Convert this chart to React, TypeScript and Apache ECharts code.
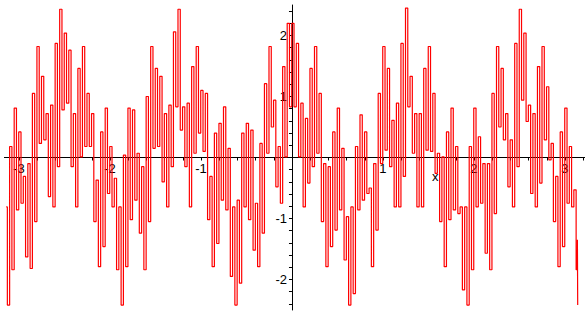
import React, { useEffect, useRef } from "react";
import * as echarts from "echarts";

// Sampling grid of the curve (x in radians), one high/low pair per step
const sampleStart = -3.14;
const sampleStep = 0.05;

// Local upper values of the zig-zag
const bandHigh = [
  -0.81, 0.18, 0.81, 0.42, -0.31, -0.1, 1.05, 1.82, 1.33, 0.72,
  0.86, 1.87, 2.43, 2.04, 1.76, 0.72, 1.46, 1.82, 1.05, 0.72,
  -0.37, 0.42, 0.81, 0.18, -0.34, -0.81, 0.04, 0.81, 0.78, 0.07,
  -0.15, 1.0, 1.82, 1.46, 1.33, 0.72, 0.86, 2.06, 2.43, 0.83,
  0.89, 1.49, 1.82, 1.1, 1.05, -0.31, 0.4, 0.56, 0.83, 0.15,
  -0.81, -0.7, 0.4, 0.56, 0.45, -0.75, 0.23, 1.21, 1.82, 0.94,
  0.18, 1.49, 2.2, 2.2, 1.87, 0.89, 0.64, 1.46, 1.82, 1.05,
  -0.1, -0.15, 0.42, 0.81, 0.15, -0.97, -0.81, 0.18, 0.7, 0.42,
  -0.5, -0.1, 1.05, 1.82, 1.46, 0.61, 0.89, 1.87, 2.45, 1.33,
  0.72, 0.72, 1.46, 1.82, 1.05, 0.07, 0.01, 0.42, 0.81, 0.18,
  -0.81, -0.81, 0.18, 0.81, 0.34, -0.1, -0.1, 1.05, 1.82, 1.46,
  0.72, 0.29, 1.87, 2.43, 2.04, 0.86, 0.72, 1.49, 1.82, 1.16,
  0.23, -0.31, 0.42, 0.81, 0.18, -0.53,
];

// Local lower values of the zig-zag
const bandLow = [
  -2.42, -1.84, -0.86, -0.75, -1.63, -1.82, -1.05, 0.23, 0.29, -0.64,
  -0.81, -0.15, 0.78, 0.89, -0.15, -0.81, 0.01, 0.18, 0.18, -1.05,
  -1.79, -1.46, -0.59, -0.81, -1.84, -2.42, -1.79, -1.02, -0.7, -1.24,
  -1.84, -1.05, 0.15, 0.18, -0.4, -0.81, -0.15, 0.83, 0.45, -0.15,
  -0.81, 0.07, 0.4, 0.1, -1.02, -1.79, -1.41, -0.7, -0.86, -1.95,
  -2.42, -2.06, -0.81, -1.02, -1.52, -1.79, -1.24, 0.07, 0.5, -0.48,
  -0.75, 0.01, 0.83, 0.83, 0.01, -0.81, -0.42, -0.15, 0.07, -1.05,
  -1.79, -1.46, -1.19, -0.86, -1.68, -2.42, -2.23, -0.86, -0.7, -0.59,
  -1.79, -1.19, -0.1, 0.12, -0.15, -0.81, -0.81, -0.31, 0.83, 0.07,
  -0.81, -0.81, 0.12, 0.1, -0.26, -1.05, -1.79, -1.02, -0.86, -0.92,
  -2.17, -2.42, -1.84, -0.81, -0.75, -1.57, -1.84, -0.92, 0.5, 0.29,
  -0.48, -0.81, -0.15, 0.94, 0.59, -0.59, -0.81, -0.42, 0.29, -0.04,
  -1.05, -1.79, -1.46, -0.75, -0.81, -1.84,
];

// Final points at the right end (x = pi)
const endX = [3.138, Math.PI];
const endY = [-1.35, -2.42];

const xTickLabels = [-3, -2, -1, 1, 2, 3];
const yTickLabels = [-2, -1, 1, 2];

// Layout (pixels)
const W = 585;
const H = 315;
const gridLeft = 4.4;
const gridTop = 5;
const gridHeight = 305;
const xMin = -3.16;
const xMax = 3.22;
const yMin = -2.5;
const yMax = 2.5;

export default function App() {
  const ref = useRef<HTMLDivElement>(null);

  useEffect(() => {
    if (!ref.current) return;
    const chart = echarts.init(ref.current, undefined, { renderer: "svg" });

    const pts: number[][] = [];
    for (let k = 0; k < bandHigh.length; k++) {
      const x = sampleStart + sampleStep * k;
      pts.push([x, bandHigh[k]]);
      pts.push([x + sampleStep / 2, bandLow[k]]);
    }
    for (let i = 0; i < endX.length; i++) pts.push([endX[i], endY[i]]);

    const xTicks: number[] = [];
    for (let i = -15; i <= 16; i++) xTicks.push(Math.round(i * 20) / 100);
    const yTicks: number[] = [];
    for (let i = -12; i <= 12; i++) yTicks.push(Math.round(i * 20) / 100);

    const gridWidth = W - gridLeft;
    const zeroYFromBottom = (gridHeight * (0 - yMin)) / (yMax - yMin);
    const zeroXFromLeft = (gridWidth * (0 - xMin)) / (xMax - xMin);

    const font = "'Liberation Sans', Arial, sans-serif";

    chart.setOption({
      animation: false,
      backgroundColor: "#ffffff",
      grid: {
        left: gridLeft,
        top: gridTop,
        width: gridWidth,
        height: gridHeight,
        containLabel: false,
        outerBoundsMode: "none",
      },
      xAxis: {
        type: "value",
        min: xMin,
        max: xMax,
        position: "bottom",
        offset: -zeroYFromBottom,
        axisLine: { onZero: false, lineStyle: { color: "#000", width: 1 } },
        axisTick: {
          show: true,
          length: 3,
          customValues: xTicks,
          lineStyle: { color: "#000" },
        },
        axisLabel: {
          customValues: xTickLabels,
          color: "#000",
          fontFamily: font,
          fontSize: 13,
          margin: 4,
          formatter: (v: number) => String(v),
        },
        splitLine: { show: false },
      },
      yAxis: {
        type: "value",
        min: yMin,
        max: yMax,
        position: "left",
        offset: -zeroXFromLeft,
        axisLine: { onZero: false, lineStyle: { color: "#000", width: 1 } },
        axisTick: {
          show: true,
          length: 3,
          customValues: yTicks,
          lineStyle: { color: "#000" },
        },
        axisLabel: {
          customValues: yTickLabels,
          color: "#000",
          fontFamily: font,
          fontSize: 13,
          margin: 5,
          formatter: (v: number) => String(v),
        },
        splitLine: { show: false },
      },
      graphic: [
        {
          type: "text",
          left: 432,
          top: 170,
          style: { text: "x", fill: "#000", font: "13px " + font },
        },
      ],
      series: [
        {
          type: "line",
          data: pts,
          step: "middle",
          showSymbol: false,
          symbol: "none",
          lineStyle: { color: "#ff0000", width: 1.2 },
          z: 3,
        },
      ],
    });

    return () => chart.dispose();
  }, []);

  return (
    <div
      ref={ref}
      style={{ position: "fixed", left: 0, top: 0, width: W, height: H }}
    />
  );
}
